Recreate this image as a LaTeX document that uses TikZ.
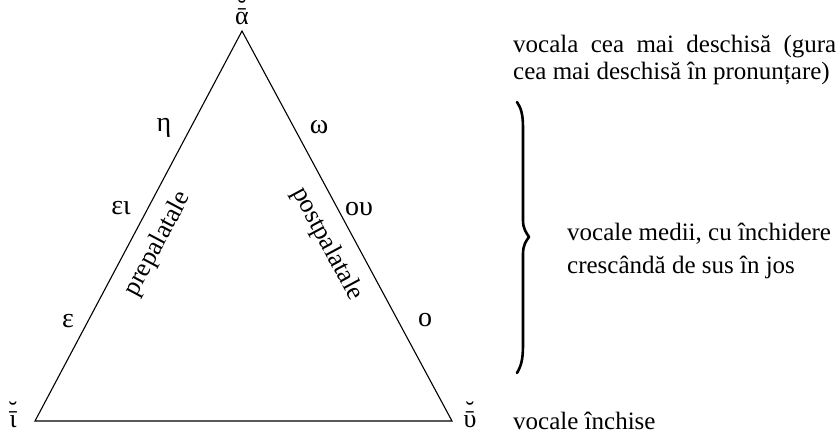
\documentclass[tikz,border=0pt]{standalone}
\usepackage{fontspec}
\setmainfont{Liberation Serif}
\newcommand{\brevemacron}[1]{\ooalign{#1\cr\hidewidth\raisebox{0.3em}{˘}\hidewidth\cr}}
\begin{document}
\begin{tikzpicture}[x=1pt,y=-1pt,
  txt/.style={font=\fontsize{25}{27}\selectfont, inner sep=0pt},
  gk/.style={font=\fontsize{28}{30}\selectfont, inner sep=0pt},
  vx/.style={font=\fontsize{26}{28}\selectfont, inner sep=0pt, anchor=base},
  side/.style={font=\fontsize{26}{28}\selectfont, inner sep=0pt},
  edge/.style={line width=1.1pt},
  bracestyle/.style={line width=2.6pt, line cap=round, line join=round}]
\path[use as bounding box] (0,0) rectangle (836,436);
% vertices
\coordinate (A) at (242,31);
\coordinate (I) at (35,421);
\coordinate (U) at (452,421);
\draw[edge, line join=miter] (A) -- (I) -- (U) -- cycle;
% vertex labels
\node[vx] (la) at (242,25) {\brevemacron{ᾱ}};
\node[vx] (li) at (13,427) {\brevemacron{ῑ}};
\node[vx] (lu) at (470,427) {\brevemacron{ῡ}};
% side letters
\node[gk] (eta) at (164,128) {η};
\node[gk] (ei) at (121,208) {ει};
\node[gk] (eps) at (68,321) {ε};
\node[gk] (om) at (319,127) {ω};
\node[gk] (ou) at (359,209) {ου};
\node[gk] (omi) at (425,320) {ο};
% side names
\node[side, rotate=62] (pre) at (158,244) {prepalatale};
\node[side, rotate=-61.7] (post) at (327,244) {postpalatale};
% brace
\coordinate (b1) at (517,102);
\coordinate (b2) at (517,373);
\coordinate (tip) at (529,237);
\draw[bracestyle] (b1) .. controls (521,108) and (523,114) .. (523,128) -- (523,220)
  .. controls (523,229) and (526,232) .. (tip)
  .. controls (526,241) and (523,245) .. (523,254) -- (523,345)
  .. controls (523,360) and (521,366) .. (b2);
% right texts
\node[txt, anchor=base west] (t1) at (513,53) {\makebox[323pt][s]{vocala cea mai deschisă (gura}};
\node[txt, anchor=base west] (t2) at (513,80) {cea mai deschisă în pronunțare)};
\node[txt, anchor=base west] (t3) at (567,240) {vocale medii, cu închidere};
\node[txt, anchor=base west] (t4) at (567,273) {crescândă de sus în jos};
\node[txt, anchor=base west] (t5) at (513,429) {vocale închise};
\end{tikzpicture}
\end{document}
